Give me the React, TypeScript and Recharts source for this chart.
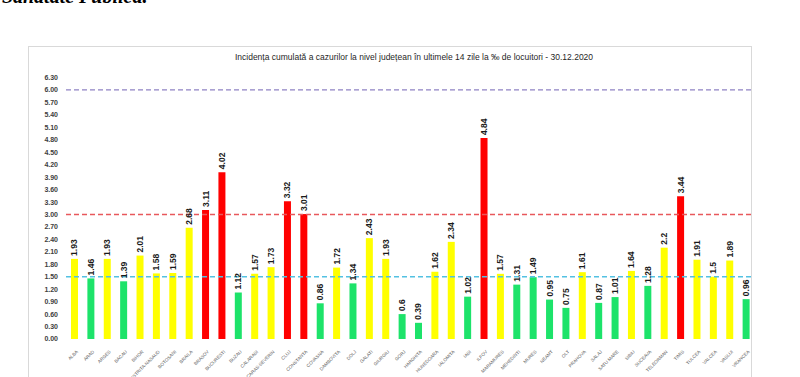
import React from "react";
import {
  BarChart,
  Bar,
  XAxis,
  YAxis,
  Cell,
  LabelList,
  ReferenceLine,
} from "recharts";

const counties: string[] = [
  "ALBA", "ARAD", "ARGES", "BACAU", "BIHOR", "BISTRITA-NASAUD", "BOTOSANI",
  "BRAILA", "BRASOV", "BUCURESTI", "BUZAU", "CALARASI", "CARAS-SEVERIN",
  "CLUJ", "CONSTANTA", "COVASNA", "DAMBOVITA", "DOLJ", "GALATI", "GIURGIU",
  "GORJ", "HARGHITA", "HUNEDOARA", "IALOMITA", "IASI", "ILFOV", "MARAMURES",
  "MEHEDINTI", "MURES", "NEAMT", "OLT", "PRAHOVA", "SALAJ", "SATU MARE",
  "SIBIU", "SUCEAVA", "TELEORMAN", "TIMIS", "TULCEA", "VALCEA", "VASLUI",
  "VRANCEA",
];

const incidence: number[] = [
  1.93, 1.46, 1.93, 1.39, 2.01, 1.58, 1.59, 2.68, 3.11, 4.02, 1.12, 1.57,
  1.73, 3.32, 3.01, 0.86, 1.72, 1.34, 2.43, 1.93, 0.6, 0.39, 1.62, 2.34,
  1.02, 4.84, 1.57, 1.31, 1.49, 0.95, 0.75, 1.61, 0.87, 1.01, 1.64, 1.28,
  2.2, 3.44, 1.91, 1.5, 1.89, 0.96,
];

const yTicks: number[] = [
  0, 0.3, 0.6, 0.9, 1.2, 1.5, 1.8, 2.1, 2.4, 2.7, 3.0, 3.3, 3.6, 3.9, 4.2,
  4.5, 4.8, 5.1, 5.4, 5.7, 6.0, 6.3,
];

const thresholds = { low: 1.5, high: 3, max: 6 };

const GREEN = "#1de36a";
const YELLOW = "#ffff00";
const RED = "#ff0000";

const barColor = (v: number) => {
  if (v > thresholds.high) return RED;
  if (v >= thresholds.low) return YELLOW;
  return GREEN;
};

const chartData = counties.map((name, i) => ({
  name,
  value: incidence[i],
}));

const narrow = "'Liberation Sans Narrow', 'Arial Narrow', 'Liberation Sans', sans-serif";

const ValueLabel = (props: any) => {
  const { x, y, width, value } = props;
  const cx = x + width / 2;
  const cy = y - 3;
  return (
    <text
      x={cx}
      y={cy}
      transform={`rotate(-90, ${cx}, ${cy})`}
      textAnchor="start"
      dominantBaseline="central"
      fontSize={8.5}
      fontWeight="bold"
      fontFamily={narrow}
      fill="#1a1a1a"
    >
      {value}
    </text>
  );
};

const CountyTick = (props: any) => {
  const { x, y, payload } = props;
  const tx = x + 3;
  const ty = y + 4;
  return (
    <text
      x={tx}
      y={ty}
      transform={`rotate(-45, ${tx}, ${ty})`}
      textAnchor="end"
      dominantBaseline="central"
      fontSize={4.6}
      fontFamily={narrow}
      fill="#595959"
    >
      {payload.value}
    </text>
  );
};

const App: React.FC = () => {
  return (
    <div
      style={{
        position: "absolute",
        left: 0,
        top: 0,
        width: 800,
        height: 377,
        overflow: "hidden",
        background: "#fff",
      }}
    >
      <div
        style={{
          position: "absolute",
          left: -22,
          top: -14,
          fontFamily: "'Liberation Serif', serif",
          fontWeight: "bold",
          fontStyle: "italic",
          fontSize: 20,
          lineHeight: "21px",
          color: "#000",
          whiteSpace: "nowrap",
        }}
      >
        de Sănătate Publică.
      </div>
      <div
        style={{
          position: "absolute",
          left: 28,
          top: 46,
          width: 724,
          height: 340,
          border: "1px solid #d9d9d9",
          boxSizing: "border-box",
        }}
      />
      <div
        style={{
          position: "absolute",
          left: 0,
          top: 52,
          width: 800,
          textAlign: "center",
          paddingLeft: 28,
          boxSizing: "border-box",
          fontFamily: narrow,
          fontSize: 8.5,
          color: "#1f1f1f",
          whiteSpace: "nowrap",
        }}
      >
        Incidența cumulată a cazurilor la nivel județean în ultimele 14 zile la ‰ de locuitori - 30.12.2020
      </div>
      <div style={{ position: "absolute", left: 0, top: 0 }}>
        <BarChart
          width={800}
          height={377}
          data={chartData}
          margin={{ top: 77.5, right: 46, bottom: 0, left: 0 }}
          barCategoryGap={0}
        >
          <XAxis
            dataKey="name"
            interval={0}
            axisLine={false}
            tickLine={false}
            height={38}
            tick={<CountyTick />}
          />
          <YAxis
            width={66}
            domain={[0, 6.3]}
            ticks={yTicks}
            interval={0}
            axisLine={false}
            tickLine={false}
            tickFormatter={(v: number) => v.toFixed(2)}
            tick={{
              fontSize: 7,
              fontWeight: "bold",
              fill: "#404040",
              fontFamily: narrow,
            }}
            tickMargin={2}
          />
          <ReferenceLine
            y={thresholds.max}
            stroke="#8f82c4"
            strokeWidth={1.3}
            strokeDasharray="5 3"
          />
          <ReferenceLine
            y={thresholds.high}
            stroke="#e8585c"
            strokeWidth={1.3}
            strokeDasharray="5 3"
          />
          <ReferenceLine
            y={thresholds.low}
            stroke="#53c1e2"
            strokeWidth={1.3}
            strokeDasharray="5 3"
          />
          <Bar dataKey="value" barSize={7} isAnimationActive={false}>
            {chartData.map((d) => (
              <Cell key={d.name} fill={barColor(d.value)} />
            ))}
            <LabelList dataKey="value" content={<ValueLabel />} />
          </Bar>
        </BarChart>
      </div>
    </div>
  );
};

export default App;
